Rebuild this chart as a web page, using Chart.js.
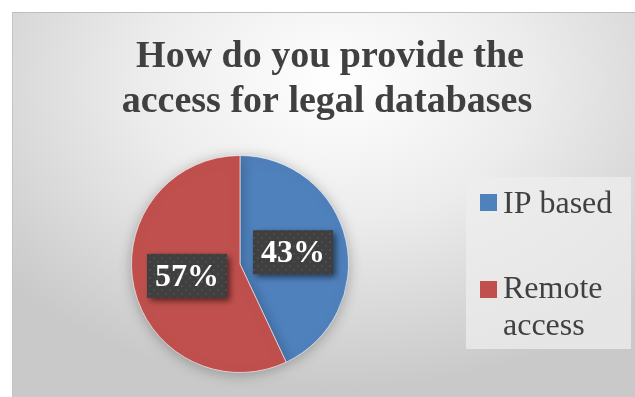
<!DOCTYPE html>
<html>
<head>
<meta charset="utf-8">
<script src="https://cdn.jsdelivr.net/npm/chart.js"></script>
<style>
  html, body { margin: 0; padding: 0; background: #ffffff; width: 635px; height: 397px; overflow: hidden; }
  #frame { position: absolute; left: 12px; top: 12px; width: 623px; height: 385px;
    border-top: 1px solid #bdbdbd; border-left: 1px solid #c4c4c4; box-sizing: border-box;
    background: radial-gradient(ellipse 70% 80% at 52% 18%, #ffffff 0%, #ececec 45%, #c9c9c9 100%); }
  #wrap { position: absolute; left: 0; top: 0; width: 635px; height: 397px; }
</style>
</head>
<body>
<div id="frame"></div>
<div id="wrap"><canvas id="c" width="635" height="397"></canvas></div>
<script>
const titleLines = ["How do you provide the", "access for legal databases"];
const categories = ["IP based", "Remote access"];
const legendLines = [["IP based"], ["Remote", "access"]];
const values = [43, 57];
const colors = ["#4f81bd", "#c0504d"];

function makePattern(ctx) {
  const p = document.createElement('canvas');
  p.width = 8; p.height = 8;
  const c = p.getContext('2d');
  c.fillStyle = '#3f3f3f'; c.fillRect(0, 0, 8, 8);
  c.fillStyle = '#4c4c4c';
  c.fillRect(1, 1, 2, 2); c.fillRect(5, 5, 2, 2);
  return ctx.createPattern(p, 'repeat');
}

const customDraw = {
  id: 'customDraw',
  beforeDatasetsDraw(chart) {
    const ctx = chart.ctx;
    ctx.save();
    ctx.shadowColor = 'rgba(0,0,0,0.28)';
    ctx.shadowBlur = 14;
    ctx.shadowOffsetX = 0;
    ctx.shadowOffsetY = 2;
  },
  afterDatasetsDraw(chart) {
    const ctx = chart.ctx;
    ctx.restore();
    // Title
    ctx.save();
    ctx.fillStyle = '#404040';
    ctx.font = 'bold 38px "Liberation Serif", "Times New Roman", serif';
    ctx.textAlign = 'center';
    ctx.textBaseline = 'alphabetic';
    ctx.fillText(titleLines[0], 330, 67);
    ctx.fillText(titleLines[1], 327, 112);
    ctx.restore();

    // Data labels
    const meta = chart.getDatasetMeta(0);
    const pat = makePattern(ctx);
    meta.data.forEach((arc, i) => {
      const pos = arc.tooltipPosition();
      const total = values.reduce((a, b) => a + b, 0);
      const txt = Math.round(values[i] / total * 100) + '%';
      const w = 80, h = 44;
      ctx.save();
      ctx.shadowColor = 'rgba(0,0,0,0.55)';
      ctx.shadowBlur = 6;
      ctx.shadowOffsetX = 3;
      ctx.shadowOffsetY = 3;
      ctx.fillStyle = pat;
      ctx.fillRect(pos.x - w / 2, pos.y - h / 2, w, h);
      ctx.restore();
      ctx.save();
      ctx.fillStyle = '#ffffff';
      ctx.font = 'bold 32px "Liberation Serif", "Times New Roman", serif';
      ctx.textAlign = 'center';
      ctx.textBaseline = 'middle';
      ctx.fillText(txt, pos.x, pos.y + 2);
      ctx.restore();
    });

    // Legend
    ctx.save();
    ctx.fillStyle = 'rgba(238,238,238,0.75)';
    ctx.fillRect(466, 177, 165, 172);
    ctx.font = '32px "Liberation Serif", "Times New Roman", serif';
    ctx.textBaseline = 'alphabetic';
    ctx.textAlign = 'left';
    const boxTops = [194, 281];
    const baselines = [213, 298];
    categories.forEach((cat, i) => {
      ctx.fillStyle = colors[i];
      ctx.fillRect(480, boxTops[i], 17, 17);
      ctx.fillStyle = '#404040';
      legendLines[i].forEach((ln, j) => {
        ctx.fillText(ln, 503, baselines[i] + j * 37);
      });
    });
    ctx.restore();
  }
};

new Chart(document.getElementById('c'), {
  type: 'pie',
  data: {
    labels: categories,
    datasets: [{
      data: values,
      backgroundColor: colors,
      borderColor: 'rgba(255,255,255,0.6)',
      borderWidth: 1
    }]
  },
  options: {
    responsive: false,
    animation: false,
    layout: { padding: { left: 131, right: 286, top: 155, bottom: 24 } },
    plugins: {
      legend: { display: false },
      title: { display: false },
      tooltip: { enabled: false }
    }
  },
  plugins: [customDraw]
});
</script>
</body>
</html>
